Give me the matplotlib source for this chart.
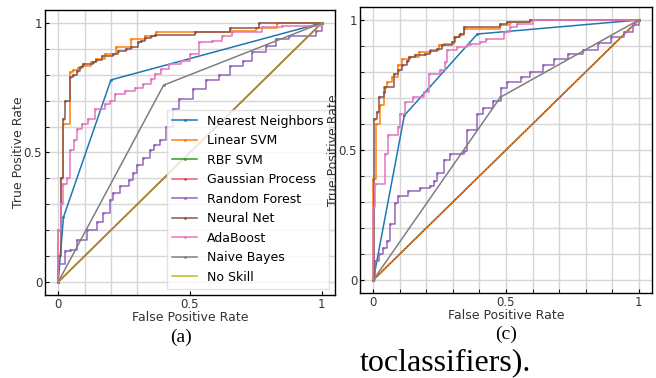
import matplotlib
matplotlib.use('Agg')
import matplotlib.pyplot as plt
from matplotlib.ticker import FixedLocator, MultipleLocator

names = ['Nearest Neighbors', 'Linear SVM', 'RBF SVM', 'Gaussian Process',
         'Random Forest', 'Neural Net', 'AdaBoost', 'Naive Bayes', 'No Skill']
colors = ['tab:blue', 'tab:orange', 'tab:green', 'tab:red', 'tab:purple',
          'tab:brown', 'tab:pink', 'tab:gray', 'tab:olive']

# step curves: at each fpr the tpr climbs to the listed value

# ---- panel (a) ----
a_knn_fpr = [0, 0.02, 0.2, 1]
a_knn_tpr = [0, 0.25, 0.78, 1]

a_svm_fpr = [0, 0, 0.011, 0.02, 0.045, 0.058, 0.075, 0.09, 0.125, 0.145, 0.177, 0.22,
             0.278, 0.328, 0.37, 0.52, 0.65, 0.75, 0.83, 1]
a_svm_tpr = [0, 0.2, 0.40, 0.61, 0.809, 0.82, 0.825, 0.835, 0.85, 0.86, 0.88, 0.906,
             0.938, 0.951, 0.964, 0.965, 0.97, 0.98, 1, 1]

a_nn_fpr = [0, 0, 0.011, 0.02, 0.026, 0.045, 0.058, 0.07, 0.083, 0.095, 0.133, 0.145,
            0.165, 0.209, 0.228, 0.259, 0.278, 0.303, 0.316, 0.328, 0.354, 0.366,
            0.52, 0.65, 0.76, 1]
a_nn_tpr = [0, 0.1, 0.40, 0.63, 0.70, 0.79, 0.80, 0.815, 0.828, 0.84, 0.848, 0.857,
            0.873, 0.88, 0.893, 0.899, 0.908, 0.925, 0.93, 0.942, 0.951, 0.955,
            0.965, 0.98, 1, 1]

a_rf_fpr = [0, 0, 0.026, 0.045, 0.07, 0.11, 0.147, 0.17, 0.196, 0.208, 0.234, 0.27,
            0.283, 0.30, 0.32, 0.347, 0.365, 0.385, 0.41, 0.435, 0.46, 0.51, 0.56,
            0.61, 0.65, 0.70, 0.736, 0.79, 0.826, 0.875, 0.977, 1]
a_rf_tpr = [0, 0.07, 0.12, 0.124, 0.163, 0.2, 0.23, 0.267, 0.318, 0.344, 0.37, 0.395,
            0.42, 0.45, 0.48, 0.51, 0.53, 0.55, 0.60, 0.667, 0.705, 0.744, 0.78,
            0.80, 0.833, 0.853, 0.888, 0.91, 0.938, 0.95, 0.97, 1]

a_ada_fpr = [0, 0, 0.01, 0.02, 0.033, 0.045, 0.06, 0.07, 0.09, 0.114, 0.14, 0.177,
             0.196, 0.215, 0.253, 0.29, 0.322, 0.354, 0.366, 0.39, 0.42, 0.467, 0.5,
             0.536, 0.585, 0.62, 0.66, 0.775, 0.85, 1]
a_ada_tpr = [0, 0.2, 0.3, 0.38, 0.40, 0.51, 0.55, 0.59, 0.61, 0.63, 0.667, 0.686,
             0.70, 0.725, 0.738, 0.748, 0.764, 0.783, 0.802, 0.822, 0.84, 0.854, 0.88,
             0.926, 0.93, 0.95, 0.965, 0.985, 0.99, 1]

a_nb_fpr = [0, 0.4, 1]
a_nb_tpr = [0, 0.76, 1]

# ---- panel (c) ----
c_knn_fpr = [0, 0.117, 0.392, 1]
c_knn_tpr = [0, 0.633, 0.946, 1]

c_svm_fpr = [0, 0, 0.01, 0.026, 0.039, 0.052, 0.07, 0.095, 0.108, 0.14, 0.171, 0.215,
             0.246, 0.265, 0.303, 0.322, 0.34, 0.479, 0.517, 0.59, 1]
c_svm_tpr = [0, 0.39, 0.60, 0.672, 0.741, 0.76, 0.78, 0.825, 0.851, 0.857, 0.876,
             0.883, 0.902, 0.909, 0.934, 0.941, 0.966, 0.98, 0.992, 1, 1]

c_nn_fpr = [0, 0.001, 0.014, 0.02, 0.039, 0.045, 0.077, 0.095, 0.108, 0.127, 0.133,
            0.158, 0.196, 0.215, 0.24, 0.259, 0.297, 0.309, 0.328, 0.34, 0.479,
            0.505, 0.59, 1]
c_nn_tpr = [0, 0.62, 0.645, 0.703, 0.722, 0.741, 0.793, 0.806, 0.825, 0.844, 0.857,
            0.864, 0.87, 0.879, 0.889, 0.902, 0.915, 0.934, 0.947, 0.973, 0.986,
            0.992, 1, 1]

c_rf_fpr = [0, 0.008, 0.02, 0.038, 0.05, 0.064, 0.083, 0.095, 0.132, 0.177, 0.215,
            0.227, 0.24, 0.265, 0.29, 0.34, 0.355, 0.392, 0.415, 0.453, 0.48, 0.505,
            0.555, 0.59, 0.64, 0.68, 0.732, 0.792, 0.845, 0.894, 0.943, 0.98, 1]
c_rf_tpr = [0, 0.074, 0.10, 0.124, 0.15, 0.216, 0.297, 0.324, 0.344, 0.355, 0.363,
            0.38, 0.41, 0.46, 0.486, 0.498, 0.575, 0.64, 0.66, 0.69, 0.74, 0.76,
            0.78, 0.80, 0.826, 0.85, 0.87, 0.884, 0.91, 0.934, 0.954, 0.98, 1]

c_ada_fpr = [0, 0, 0.008, 0.045, 0.057, 0.094, 0.1, 0.12, 0.15, 0.19, 0.209, 0.253,
             0.272, 0.278, 0.316, 0.354, 0.366, 0.404, 0.423, 0.492, 0.517, 0.542,
             0.6, 1]
c_ada_tpr = [0, 0.28, 0.37, 0.486, 0.556, 0.587, 0.64, 0.683, 0.703, 0.722, 0.793,
             0.807, 0.838, 0.883, 0.896, 0.902, 0.909, 0.915, 0.928, 0.954, 0.973,
             0.986, 1, 1]

c_nb_fpr = [0, 0.479, 1]
c_nb_tpr = [0, 0.703, 1]

diag = [0, 1]

panels = [
    {'knn': (a_knn_fpr, a_knn_tpr), 'svm': (a_svm_fpr, a_svm_tpr),
     'rf': (a_rf_fpr, a_rf_tpr), 'nn': (a_nn_fpr, a_nn_tpr),
     'ada': (a_ada_fpr, a_ada_tpr), 'nb': (a_nb_fpr, a_nb_tpr)},
    {'knn': (c_knn_fpr, c_knn_tpr), 'svm': (c_svm_fpr, c_svm_tpr),
     'rf': (c_rf_fpr, c_rf_tpr), 'nn': (c_nn_fpr, c_nn_tpr),
     'ada': (c_ada_fpr, c_ada_tpr), 'nb': (c_nb_fpr, c_nb_tpr)},
]

fig = plt.figure(figsize=(6.56, 3.78), dpi=100)
axes = [fig.add_axes([0.0686, 0.2196, 0.442, 0.754]),
        fig.add_axes([0.5488, 0.2249, 0.445, 0.7566])]

txtc = '#333333'
gridc = '#d6d6d6'
for k, (ax, d) in enumerate(zip(axes, panels)):
    kw = dict(marker='.', markersize=2, linewidth=1.1)
    st = dict(drawstyle='steps-post', **kw)
    ax.plot(*d['knn'], color=colors[0], label=names[0], **kw)
    ax.plot(*d['svm'], color=colors[1], label=names[1], **st)
    ax.plot(diag, diag, color=colors[2], label=names[2], **kw)
    ax.plot(diag, diag, color=colors[3], label=names[3], alpha=0.7, **kw)
    ax.plot(*d['rf'], color=colors[4], label=names[4], **st)
    ax.plot(*d['nn'], color=colors[5], label=names[5], **st)
    ax.plot(*d['ada'], color=colors[6], label=names[6], **st)
    ax.plot(*d['nb'], color=colors[7], label=names[7], **kw)
    if k == 0:
        ax.plot(diag, diag, color=colors[8], label=names[8], alpha=0.5, linewidth=1.1)
    else:
        ax.plot(diag, diag, color=colors[1], label=names[8],
                linestyle=(0, (1, 1)), linewidth=1.1)

    ax.set_xlim(-0.05, 1.05)
    ax.set_ylim(-0.05, 1.05)
    ax.xaxis.set_major_locator(FixedLocator([0, 0.5, 1]))
    ax.yaxis.set_major_locator(FixedLocator([0, 0.5, 1]))
    ax.set_xticklabels(['0', '0.5', '1'])
    ax.set_yticklabels(['0', '0.5', '1'])
    ax.yaxis.set_minor_locator(MultipleLocator(0.1))
    ax.tick_params(which='both', direction='in', length=3, labelsize=8.5,
                   labelcolor=txtc, pad=2)
    ax.grid(axis='y', which='both', color=gridc, linewidth=1)
    if k == 0:
        # only the first few vertical grid lines show in panel (a)
        for gx in [0, 0.1, 0.2, 0.3]:
            ax.axvline(gx, color=gridc, linewidth=1, zorder=0)
    else:
        ax.xaxis.set_minor_locator(MultipleLocator(0.1))
        ax.grid(axis='x', which='both', color=gridc, linewidth=1)
    ax.set_axisbelow(True)
    ax.set_xlabel('False Positive Rate', fontsize=9, color=txtc)
    ax.set_ylabel('True Positive Rate', fontsize=9, color=txtc)
    ax.xaxis.set_label_coords(0.5, -0.056)
    ax.yaxis.set_label_coords(-0.068, 0.5)
    for s in ax.spines.values():
        s.set_linewidth(1)

leg = axes[0].legend(loc='lower right', fontsize=9, framealpha=0.8,
                     edgecolor='#dddddd', fancybox=False, handlelength=2.0,
                     handletextpad=0.8, labelspacing=0.52, borderpad=0.4,
                     bbox_to_anchor=(1.0, 0.0))
leg.legend_handles[8].set_alpha(1)

fig.text(0.276, 0.108, '(a)', fontsize=14, family='Liberation Serif',
         ha='center', va='center')
fig.text(0.771, 0.116, '(c)', fontsize=14, family='Liberation Serif',
         ha='center', va='center')
fig.text(0.549, 0.021, 'toclassifiers).', fontsize=23, family='Liberation Serif',
         va='baseline')

fig.savefig('out.png', dpi=100)
